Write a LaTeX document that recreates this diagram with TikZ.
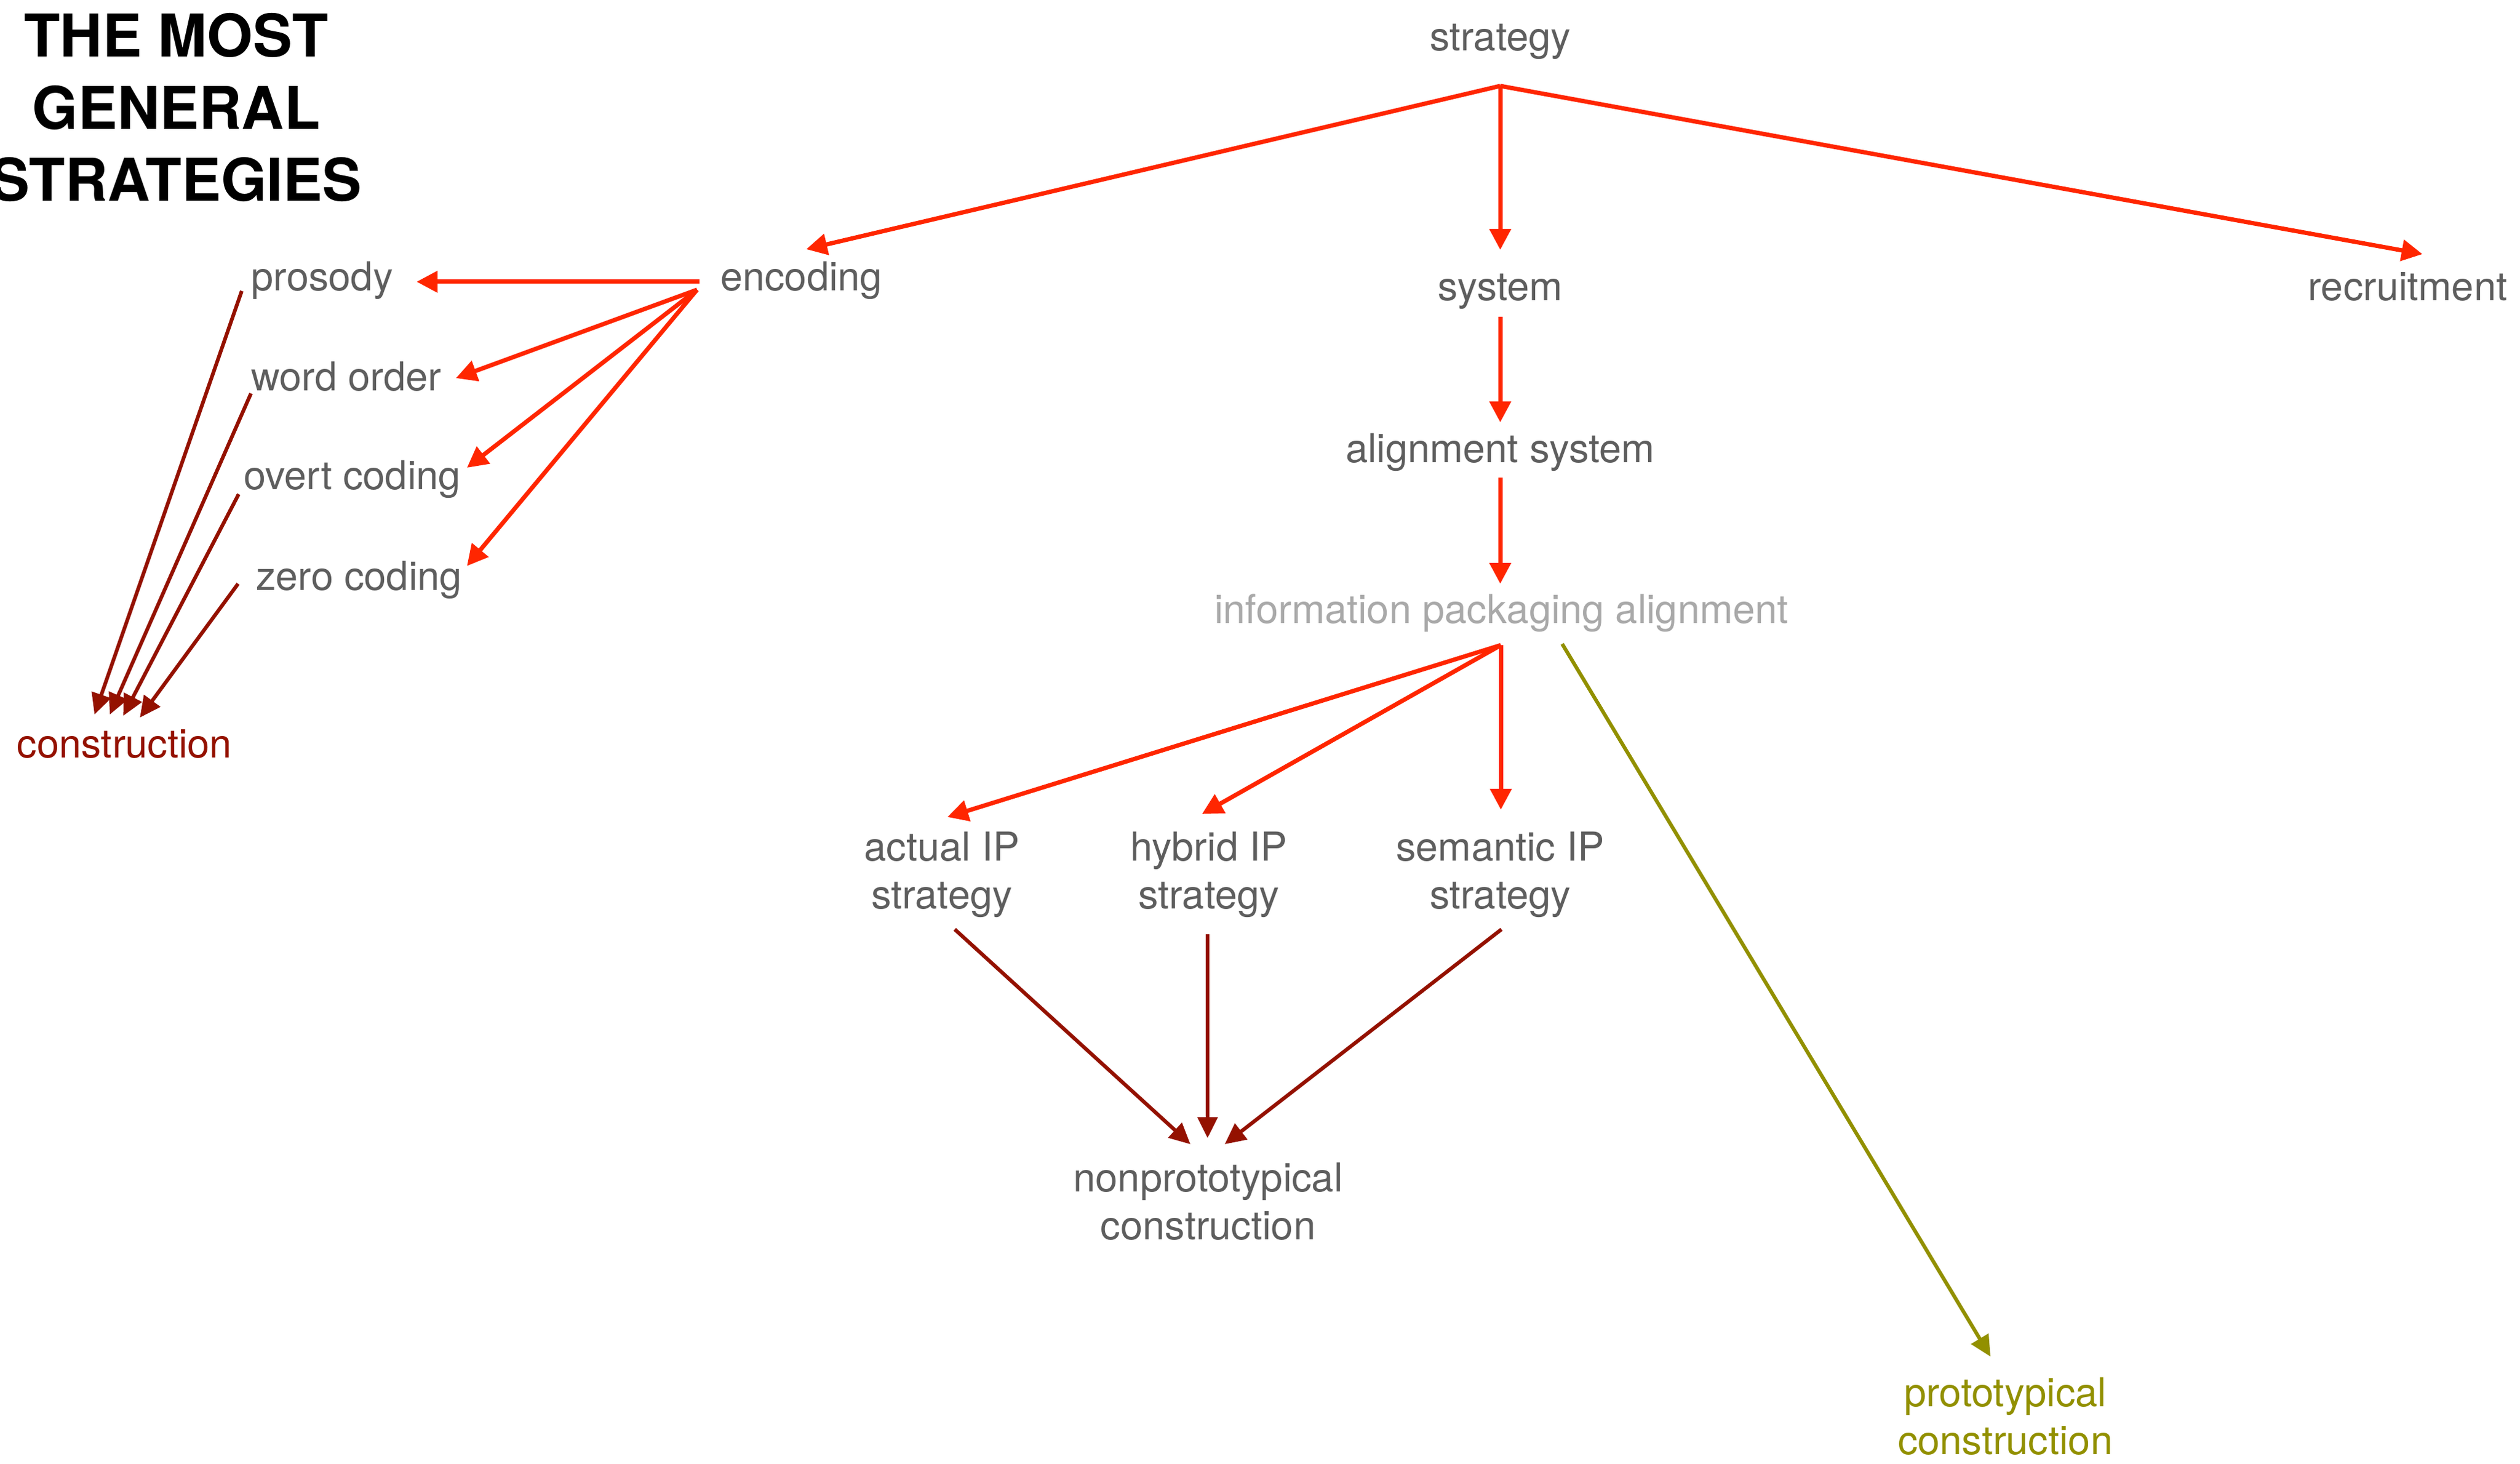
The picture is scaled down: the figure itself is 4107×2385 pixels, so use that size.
\documentclass[tikz,border=0pt]{standalone}
\usepackage{fontspec}
\setmainfont{TeX Gyre Heros}
\usetikzlibrary{arrows.meta,calc}
\definecolor{kred}{HTML}{FF2600}
\definecolor{kmaroon}{HTML}{941100}
\definecolor{kolive}{HTML}{929000}
\definecolor{kgray}{HTML}{5E5E5E}
\definecolor{klight}{HTML}{A9A9A9}
\begin{document}
\begin{tikzpicture}[x=0.25pt,y=-0.25pt,
  lbl/.style={anchor=base, inner sep=0pt, font=\fontsize{16.25}{19.4}\selectfont, text=kgray, align=center},
  titlestyle/.style={anchor=base, inner sep=0pt, font=\fontsize{24}{29.4}\selectfont\bfseries, text=black, align=center},
  redarr/.style={draw=kred, line width=1.75pt, -{Triangle[length=8.5pt,width=8.5pt]}},
  maroonarr/.style={draw=kmaroon, line width=1.5pt, -{Triangle[length=8.5pt,width=8pt]}},
  olivearr/.style={draw=kolive, line width=1.5pt, -{Triangle[length=8.5pt,width=8pt]}}]
\useasboundingbox[fill=white] (0,0) rectangle (4107,2385);

% multi-line nodes are placed by the baseline of their last line
\node[titlestyle] (title) at (287,328) {THE MOST\\GENERAL\\STRATEGIES};

\node[lbl] (strategy) at (2445,83) {strategy};
\node[lbl] (encoding) at (1306,473) {encoding};
\node[lbl] (system) at (2445,489) {system};
\node[lbl] (recruitment) at (3924,489) {recruitment};
\node[lbl] (prosody) at (525,473) {prosody};
\node[lbl] (wordorder) at (564,636) {word order};
\node[lbl] (overt) at (574,797) {overt coding};
\node[lbl] (zero) at (585,961) {zero coding};
\node[lbl, text=kmaroon] (construction) at (203,1234) {construction};
\node[lbl] (alignment) at (2445,753) {alignment system};
\node[lbl, text=klight] (ipa) at (2447,1015) {information packaging alignment};
\node[lbl] (actual) at (1535,1480) {actual IP\\strategy};
\node[lbl] (hybrid) at (1970,1480) {hybrid IP\\strategy};
\node[lbl] (semantic) at (2445,1480) {semantic IP\\strategy};
\node[lbl] (nonproto) at (1969,2019) {nonprototypical\\construction};
\node[lbl, text=kolive] (proto) at (3268,2369) {prototypical\\construction};

% strategy level
\draw[redarr] ($(strategy.base)+(0,57)$) -- ($(encoding.base)+(8,-67)$);
\draw[redarr] ($(strategy.base)+(0,57)$) -- ($(system.base)+(0,-82)$);
\draw[redarr] ($(strategy.base)+(0,57)$) -- ($(recruitment.base)+(24,-75)$);

% encoding
\draw[redarr] ($(encoding.base)+(-166,-14)$) -- ($(prosody.base)+(154,-14)$);
\draw[redarr] ($(encoding.base)+(-170,-1)$) -- ($(wordorder.base)+(179,-20)$);
\draw[redarr] ($(encoding.base)+(-170,-1)$) -- ($(overt.base)+(187,-35)$);
\draw[redarr] ($(encoding.base)+(-170,-1)$) -- ($(zero.base)+(176,-39)$);

% to construction
\draw[maroonarr] ($(prosody.base)+(-131,1)$) -- ($(construction.base)+(-49,-70)$);
\draw[maroonarr] ($(wordorder.base)+(-155,5)$) -- ($(construction.base)+(-24,-70)$);
\draw[maroonarr] ($(overt.base)+(-185,8)$) -- ($(construction.base)+(-2,-68)$);
\draw[maroonarr] ($(zero.base)+(-197,-10)$) -- ($(construction.base)+(25,-65)$);

% system chain
\draw[redarr] ($(system.base)+(0,27)$) -- ($(alignment.base)+(0,-65)$);
\draw[redarr] ($(alignment.base)+(0,25)$) -- ($(ipa.base)+(-2,-64)$);

% IPA
\draw[redarr] ($(ipa.base)+(-1,36)$) -- ($(actual.base)+(9,-149)$);
\draw[redarr] ($(ipa.base)+(-1,36)$) -- ($(hybrid.base)+(-11,-154)$);
\draw[redarr] ($(ipa.base)+(-1,36)$) -- ($(semantic.base)+(1,-161)$);
\draw[olivearr] ($(ipa.base)+(99,34)$) -- ($(proto.base)+(-24,-159)$);

% to nonprototypical
\draw[maroonarr] ($(actual.base)+(21,34)$) -- ($(nonproto.base)+(-29,-155)$);
\draw[maroonarr] ($(hybrid.base)+(-2,42)$) -- ($(nonproto.base)+(-1,-165)$);
\draw[maroonarr] ($(semantic.base)+(2,34)$) -- ($(nonproto.base)+(27,-155)$);
\end{tikzpicture}
\end{document}
